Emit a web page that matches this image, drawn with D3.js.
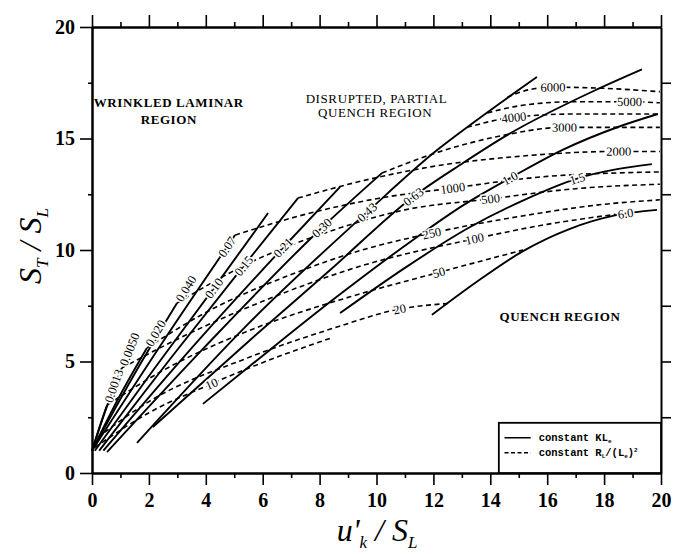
<!DOCTYPE html>
<html>
<head>
<meta charset="utf-8">
<script src="https://cdn.jsdelivr.net/npm/d3@7"></script>
<style>
  body { margin: 0; background: #fff; }
  svg { display: block; }
</style>
</head>
<body>
<svg width="676" height="554"></svg>
<script>
// values, in axis units (u'k/SL, ST/SL)
var xTicks = [0, 2, 4, 6, 8, 10, 12, 14, 16, 18, 20]
var yTicks = [0, 5, 10, 15, 20]

// solid lines: constant K.Le
var kleLabels = ['0.0013', '0.0050', '0.020', '0.040', '0.07', '0.10', '0.15', '0.21',
  '0.30', '0.43', '0.63', '1.0', '1.5', '6.0']
var kleCurves = [
  [[0, 1], [0.25, 2.0], [0.53, 3.05]],
  [[0, 1], [0.5, 2.9], [1.05, 4.71]],
  [[0, 1], [0.95, 3.4], [1.93, 5.61]],
  [[0, 1], [1.5, 4.45], [2.99, 7.62]],
  [[0, 1], [2.5, 5.9], [5.03, 10.67]],
  [[0.1, 1], [2.2, 4.7], [4.29, 8.3], [6.19, 11.66]],
  [[0.25, 1], [2.8, 5.2], [5.34, 9.3], [7.24, 12.33]],
  [[0.4, 1], [3.5, 5.6], [6.71, 10.1], [8.72, 12.83]],
  [[0.53, 0.94], [4, 5.7], [8.08, 11.0], [10.19, 13.45]],
  [[1.58, 1.35], [5.5, 6.7], [9.67, 11.7], [12.13, 14.48], [13.53, 15.83], [15.64, 17.76]],
  [[2.14, 2.06], [5.5, 5.9], [8.37, 9.1], [11.28, 12.38], [13.04, 13.9], [14.59, 15.15], [17.75, 17.2], [19.33, 18.1]],
  [[3.9, 3.1], [5.55, 4.8], [8.5, 7.8], [11.28, 10.45], [13.04, 12.0], [14.94, 13.4], [16.56, 14.5], [18.56, 15.55], [19.89, 16.1]],
  [[8.72, 7.17], [11, 9.2], [13.29, 11.03], [15.2, 12.25], [17.05, 13.2], [19.68, 13.85]],
  [[11.95, 7.09], [13.5, 8.55], [15.15, 9.95], [16.8, 10.95], [18.38, 11.55], [19.86, 11.8]]
]
var kleLabelX = [0.53, 1.05, 1.93, 2.99, 4.75, 4.29, 5.34, 6.71, 8.08, 9.67, 11.28, 14.69, 17.05, 18.75]

// dashed lines: constant RL/(Le)^2
var rlLabels = ['10', '20', '50', '100', '250', '500', '1000', '2000', '3000', '4000', '5000', '6000']
var rlCurves = [
  [[0.1, 1.15], [2, 2.7], [4.2, 4.0], [6.3, 5.1], [8.4, 6.05]],
  [[0.2, 1.6], [2, 3.2], [5.55, 5.2], [8.5, 6.5], [10.8, 7.35], [12.5, 7.6]],
  [[0.53, 3.05], [2.5, 4.6], [5.55, 6.4], [9.07, 7.9], [12.2, 9.0], [15.15, 10.0]],
  [[1.05, 4.71], [3, 6.0], [6, 7.7], [9.5, 9.3], [13.43, 10.5], [16, 11.15], [18.4, 11.6]],
  [[1.93, 5.61], [4, 7.2], [7, 8.9], [9.5, 10], [11.95, 10.76], [15, 11.5], [18, 12.05], [19.96, 12.25]],
  [[2.99, 7.62], [5.5, 9.4], [8.5, 10.9], [11, 11.8], [13.99, 12.29], [17, 12.75], [19.96, 12.95]],
  [[5.03, 10.67], [7.5, 11.6], [10, 12.3], [12.69, 12.78], [16, 13.3], [19.96, 13.5]],
  [[7.24, 12.33], [9.5, 13.1], [12, 13.75], [15, 14.2], [18.5, 14.42], [19.96, 14.42]],
  [[10.19, 13.45], [12.2, 14.4], [14.3, 15.1], [16.6, 15.5], [19.96, 15.5]],
  [[13.18, 15.5], [14.83, 15.95], [17, 16.1], [19.96, 16.1]],
  [[13.9, 16.15], [15.2, 16.5], [17, 16.65], [18.9, 16.65], [19.96, 16.6]],
  [[14.6, 16.85], [15.4, 17.2], [16.2, 17.3], [18, 17.25], [19.96, 17.1]]
]
var rlLabelX = [4.2, 10.8, 12.2, 13.43, 11.95, 13.99, 12.69, 18.5, 16.6, 14.83, 18.9, 16.2]

;(function (d3) {
  var svg = d3.select('svg')

  var x = d3.scaleLinear().domain([0, 20]).range([92, 661])
  var y = d3.scaleLinear().domain([0, 20]).range([473, 27])

  var line = d3.line()
        .x(function (d) { return x(d[0]) })
        .y(function (d) { return y(d[1]) })
        .curve(d3.curveMonotoneX)

  // axes
  function styleAxis (g, labels) {
    g.select('.domain').attr('stroke', '#000').attr('stroke-width', 2)
    g.selectAll('.tick line').attr('stroke', '#000').attr('stroke-width', 1.6)
    if (labels) {
      g.selectAll('.tick text')
        .attr('fill', '#000')
        .style('font-family', '"Liberation Serif", serif')
        .style('font-weight', 'bold')
        .style('font-size', '20px')
    }
  }

  var minorX = [1, 3, 5, 7, 9, 11, 13, 15, 17, 19]
  var minorY = [2.5, 7.5, 12.5, 17.5]

  svg.append('g').attr('transform', 'translate(0,' + y(0) + ')')
    .call(d3.axisBottom(x).tickValues(xTicks).tickSize(12).tickSizeOuter(0).tickPadding(8).tickFormat(d3.format('d')))
    .call(styleAxis, true)
  svg.append('g').attr('transform', 'translate(0,' + y(0) + ')')
    .call(d3.axisBottom(x).tickValues(minorX).tickSize(5).tickSizeOuter(0).tickFormat(''))
    .call(styleAxis, false)

  svg.append('g').attr('transform', 'translate(0,' + y(20) + ')')
    .call(d3.axisTop(x).tickValues(xTicks).tickSize(12).tickSizeOuter(0).tickFormat(''))
    .call(styleAxis, false)
  svg.append('g').attr('transform', 'translate(0,' + y(20) + ')')
    .call(d3.axisTop(x).tickValues(minorX).tickSize(5).tickSizeOuter(0).tickFormat(''))
    .call(styleAxis, false)

  svg.append('g').attr('transform', 'translate(' + x(0) + ',0)')
    .call(d3.axisLeft(y).tickValues(yTicks).tickSize(12).tickSizeOuter(0).tickPadding(5).tickFormat(d3.format('d')))
    .call(styleAxis, true)
  svg.append('g').attr('transform', 'translate(' + x(0) + ',0)')
    .call(d3.axisLeft(y).tickValues(minorY).tickSize(4).tickSizeOuter(0).tickFormat(''))
    .call(styleAxis, false)

  svg.append('g').attr('transform', 'translate(' + x(20) + ',0)')
    .call(d3.axisRight(y).tickValues(minorY.concat([5, 10, 15])).tickSize(10).tickSizeOuter(0).tickFormat(''))
    .call(styleAxis, false)

  // curves
  var plot = svg.append('g')

  var solid = plot.selectAll('path.kle')
        .data(kleCurves)
        .enter()
        .append('path')
        .attr('class', 'kle')
        .attr('d', line)
        .style('fill', 'none')
        .style('stroke', '#000')
        .style('stroke-width', 1.9)

  var dashed = plot.selectAll('path.rl')
        .data(rlCurves)
        .enter()
        .append('path')
        .attr('class', 'rl')
        .attr('d', line)
        .style('fill', 'none')
        .style('stroke', '#000')
        .style('stroke-width', 1.6)
        .style('stroke-dasharray', '5,3.5')

  // find where a drawn path passes a given x, and its direction there
  function pointAtX (node, px) {
    var len = node.getTotalLength()
    var n = 400
    var best = 0
    var bd = Infinity
    for (var i = 0; i <= n; i++) {
      var p = node.getPointAtLength(len * i / n)
      var dd = Math.abs(p.x - px)
      if (dd < bd) { bd = dd; best = i }
    }
    var at = len * best / n
    var p0 = node.getPointAtLength(Math.max(0, at - 3))
    var p1 = node.getPointAtLength(Math.min(len, at + 3))
    var pm = node.getPointAtLength(at)
    return { x: pm.x, y: pm.y, angle: Math.atan2(p1.y - p0.y, p1.x - p0.x) * 180 / Math.PI }
  }

  var labelFont = '"Liberation Serif", "DejaVu Serif", serif'

  function addLabel (node, text, lx, tip) {
    var pt = pointAtX(node, x(lx))
    var t = plot.append('text')
          .attr('transform', 'translate(' + pt.x + ',' + pt.y + ') rotate(' + pt.angle + ')')
          .attr('dy', '0.35em')
          .style('font-family', labelFont)
          .style('font-size', '12.5px')
          .style('fill', '#000')
          .style('stroke', '#fff')
          .style('stroke-width', 3)
          .style('paint-order', 'stroke')
          .text(text)
    if (tip) {
      t.attr('x', 3).attr('text-anchor', 'start')
    } else {
      t.attr('text-anchor', 'middle')
    }
  }

  solid.each(function (d, i) {
    var last = d[d.length - 1][0]
    addLabel(this, kleLabels[i], kleLabelX[i], kleLabelX[i] >= last)
  })
  dashed.each(function (d, i) {
    addLabel(this, rlLabels[i], rlLabelX[i], false)
  })

  // region names
  var regions = [
    { t: 'WRINKLED LAMINAR', x: 2.7, y: 16.4, w: 'bold' },
    { t: 'REGION', x: 2.7, y: 15.65, w: 'bold' },
    { t: 'DISRUPTED, PARTIAL', x: 10.0, y: 16.6, w: 'normal' },
    { t: 'QUENCH REGION', x: 9.95, y: 15.95, w: 'normal' },
    { t: 'QUENCH REGION', x: 16.45, y: 6.8, w: 'bold' }
  ]
  svg.selectAll('text.region')
    .data(regions)
    .enter()
    .append('text')
    .attr('class', 'region')
    .attr('x', function (d) { return x(d.x) })
    .attr('y', function (d) { return y(d.y) })
    .attr('text-anchor', 'middle')
    .style('font-family', labelFont)
    .style('font-size', '13px')
    .style('font-weight', function (d) { return d.w })
    .style('letter-spacing', '0.6px')
    .text(function (d) { return d.t })

  // legend
  var lg = svg.append('g')
  lg.append('rect')
    .attr('x', x(14.3)).attr('y', y(2.25))
    .attr('width', x(20) - x(14.3)).attr('height', y(0) - y(2.25))
    .style('fill', '#fff').style('stroke', '#000').style('stroke-width', 1.8)
  var rows = [
    { dash: null, main: 'constant KL', sub: 'e' },
    { dash: '4,2.5', main: 'constant R', sub: 'L' }
  ]
  rows.forEach(function (r, i) {
    var ly = y(1.58) + i * 15
    lg.append('line')
      .attr('x1', x(14.5)).attr('x2', x(15.42))
      .attr('y1', ly).attr('y2', ly)
      .style('stroke', '#000').style('stroke-width', 1.5)
      .style('stroke-dasharray', r.dash)
    var t = lg.append('text')
          .attr('x', x(15.7)).attr('y', ly + 3.5)
          .style('font-family', '"Liberation Mono", "DejaVu Sans Mono", monospace')
          .style('font-weight', 'bold')
          .style('font-size', '10.5px')
    t.append('tspan').text(r.main)
    t.append('tspan').attr('dy', 2).style('font-size', '6px').text(r.sub)
    if (i === 1) {
      t.append('tspan').attr('dy', -2).text('/(L')
      t.append('tspan').attr('dy', 2).style('font-size', '6px').text('e')
      t.append('tspan').attr('dy', -2).text(')')
      t.append('tspan').attr('dy', -4).style('font-size', '6px').text('2')
    }
  })

  // axis titles
  var titleFont = '"Liberation Serif", "Times New Roman", serif'
  var yt = svg.append('text')
        .attr('transform', 'translate(41,246) rotate(-90)')
        .attr('text-anchor', 'middle')
        .style('font-family', titleFont)
        .style('font-style', 'italic')
        .style('font-size', '32px')
  yt.append('tspan').text('S')
  yt.append('tspan').attr('dy', 7).style('font-size', '17px').text('T')
  yt.append('tspan').attr('dy', -7).text(' / S')
  yt.append('tspan').attr('dy', 7).style('font-size', '17px').text('L')

  var xt = svg.append('text')
        .attr('x', 377).attr('y', 541)
        .attr('text-anchor', 'middle')
        .style('font-family', titleFont)
        .style('font-style', 'italic')
        .style('font-size', '32px')
  xt.append('tspan').text('u\'')
  xt.append('tspan').attr('dy', 7).style('font-size', '17px').text('k')
  xt.append('tspan').attr('dy', -7).text(' / S')
  xt.append('tspan').attr('dy', 7).style('font-size', '17px').text('L')
})(window.d3)
</script>
</body>
</html>
